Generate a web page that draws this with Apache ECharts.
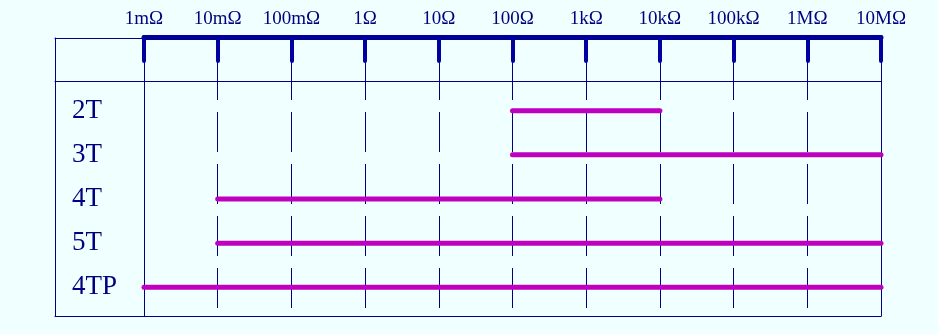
<!DOCTYPE html>
<html><head><meta charset="utf-8">
<script src="https://cdn.jsdelivr.net/npm/echarts@6/dist/echarts.min.js"></script>
<style>html,body{margin:0;padding:0;background:#F0FFFF}#c{width:938px;height:334px}</style>
</head><body><div id="c"></div>
<script>
// Decade tick labels of the resistance axis
const tickLabels = ['1mΩ','10mΩ','100mΩ','1Ω','10Ω','100Ω','1kΩ','10kΩ','100kΩ','1MΩ','10MΩ'];
const axisMin = 0.001;
const axisMax = 1e7;
// Measurement configurations and their ranges (Ω)
const rowNames = ['2T','3T','4T','5T','4TP'];
const rangeLow  = [100, 100, 0.01, 0.01, 0.001];
const rangeHigh = [1e4, 1e7, 1e4, 1e7, 1e7];

const NAVY = '#000080';
const BAR = '#0000A0';
const MAG = '#BF00BF';
const FONT = 'Liberation Serif';

const chart = echarts.init(document.getElementById('c'), null, {renderer: 'canvas'});

const frameAxis = (pos, offset) => ({
  gridIndex: 1, type: 'value', min: 0, max: 1, position: pos, offset: offset,
  axisLine: {show: true, onZero: false, lineStyle: {color: NAVY, width: 1}},
  axisTick: {show: false}, axisLabel: {show: false}, splitLine: {show: false}
});

const option = {
  backgroundColor: '#F0FFFF',
  animation: false,
  grid: [
    {left: 144, right: 57, top: 37, bottom: 26},
    {left: 55, right: 57, top: 38, bottom: 18},
    {left: 144, right: 57, top: 88.6, bottom: 24.6}
  ],
  xAxis: [
    {
      gridIndex: 0, type: 'log', logBase: 10, min: axisMin, max: axisMax, interval: 1,
      position: 'top',
      axisLine: {show: true, onZero: false, lineStyle: {color: BAR, width: 5, cap: 'round'}},
      axisTick: {show: true, inside: true, length: 24, lineStyle: {color: BAR, width: 4, cap: 'round'}},
      axisLabel: {
        show: true, margin: 8, color: NAVY, fontFamily: FONT, fontSize: 19,
        formatter: v => tickLabels[Math.round(Math.log10(v / axisMin))]
      },
      splitLine: {
        show: true, showMinLine: false, showMaxLine: false,
        lineStyle: {color: NAVY, width: 1, type: [40, 12], dashOffset: 29}
      }
    },
    frameAxis('top', 0),
    frameAxis('top', -43),
    frameAxis('bottom', 0),
    {
      gridIndex: 2, type: 'log', logBase: 10, min: axisMin, max: axisMax, interval: 1,
      show: false
    }
  ],
  yAxis: [
    {gridIndex: 0, type: 'value', show: false},
    frameAxis('left', 0),
    frameAxis('left', -89),
    frameAxis('right', 0),
    {
      gridIndex: 2, type: 'category', data: rowNames, inverse: true,
      axisLine: {show: false}, axisTick: {show: false}, splitLine: {show: false},
      axisLabel: {show: true, align: 'left', margin: 72, color: NAVY, fontFamily: FONT, fontSize: 27}
    }
  ],
  series: rowNames.map((name, i) => ({
    type: 'line', name: name, xAxisIndex: 4, yAxisIndex: 4,
    data: [[rangeLow[i], name], [rangeHigh[i], name]],
    showSymbol: false, symbol: 'none', clip: false,
    lineStyle: {color: MAG, width: 5, cap: 'round'},
    emphasis: {disabled: true}
  }))
};
chart.setOption(option);
</script>
</body></html>
